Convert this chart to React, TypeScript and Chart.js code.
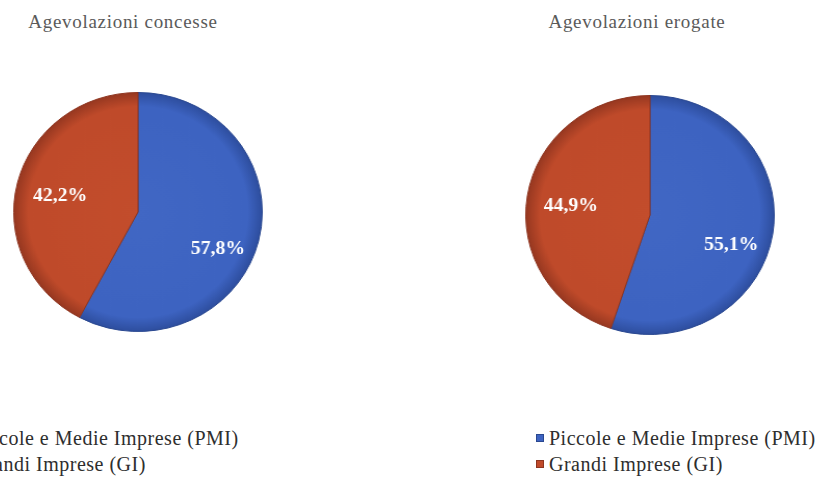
import React, { useEffect, useRef } from "react";
import { Chart, registerables } from "chart.js";

Chart.register(...registerables);

const categories = ["Piccole e Medie Imprese (PMI)", "Grandi Imprese (GI)"];
const concesseValues = [57.8, 42.2];
const erogateValues = [55.1, 44.9];
const chartTitles = ["Agevolazioni concesse", "Agevolazioni erogate"];

const SERIF = "'Liberation Serif', 'DejaVu Serif', serif";

const fmt = (v: number) => v.toFixed(1).replace(".", ",") + "%";

// small label placement nudges (px) per slice, like Excel's "best fit"
const labelNudge = [
  { dx: -2, dy: 17 },
  { dx: 4, dy: 4 },
];

const percentLabels = {
  id: "percentLabels",
  afterDatasetsDraw(chart: any) {
    const ctx = chart.ctx;
    const meta = chart.getDatasetMeta(0);
    const data = chart.data.datasets[0].data as number[];
    ctx.save();
    ctx.font = "bold 19px " + SERIF;
    ctx.fillStyle = "#ffffff";
    ctx.textAlign = "center";
    ctx.textBaseline = "middle";
    meta.data.forEach((arc: any, i: number) => {
      const p = arc.getProps(["x", "y", "startAngle", "endAngle", "outerRadius"], true);
      const mid = (p.startAngle + p.endAngle) / 2;
      const r = p.outerRadius * 0.68;
      const n = labelNudge[i] || { dx: 0, dy: 0 };
      ctx.fillText(fmt(data[i]), p.x + Math.cos(mid) * r + n.dx, p.y + Math.sin(mid) * r + n.dy);
    });
    ctx.restore();
  },
};

const gradStops = [
  ["#4167c4", "#3d63c1", "#2d4d9d"],
  ["#c34d2c", "#bf4a2a", "#953720"],
];

const sliceFill = (c: any) => {
  const chart = c.chart;
  const area = chart.chartArea;
  const stops = gradStops[c.dataIndex % gradStops.length];
  if (!area) return stops[1];
  const cx = (area.left + area.right) / 2;
  const cy = (area.top + area.bottom) / 2;
  const r = Math.min(area.right - area.left, area.bottom - area.top) / 2;
  const g = chart.ctx.createRadialGradient(cx, cy, 0, cx, cy, r);
  g.addColorStop(0, stops[0]);
  g.addColorStop(0.88, stops[1]);
  g.addColorStop(1, stops[2]);
  return g;
};

const borderColors = ["#2a4890", "#8e3520"];

function Pie({ values, left, top }: { values: number[]; left: number; top: number }) {
  const ref = useRef<HTMLCanvasElement | null>(null);
  useEffect(() => {
    if (!ref.current) return;
    const chart = new Chart(ref.current, {
      type: "pie",
      data: {
        labels: categories,
        datasets: [
          {
            data: values,
            backgroundColor: sliceFill as any,
            borderColor: borderColors,
            borderWidth: 1,
          },
        ],
      },
      options: {
        responsive: false,
        animation: false,
        layout: { padding: 30 },
        plugins: {
          legend: { display: false },
          tooltip: { enabled: false },
          title: { display: false },
        },
      },
      plugins: [percentLabels],
    });
    return () => chart.destroy();
  }, [values]);
  return (
    <canvas
      ref={ref}
      width={300}
      height={300}
      style={{
        position: "absolute",
        left,
        top,
        width: 300,
        height: 300,
        transform: "scaleX(1.04)",
        transformOrigin: "150px 150px",
      }}
    />
  );
}

const legendColors = ["#3d63c1", "#c04a2a"];

function Legend({ left, top }: { left: number; top: number }) {
  return (
    <div style={{ position: "absolute", left, top, fontFamily: SERIF, fontSize: 20, color: "#2e2e2e", whiteSpace: "nowrap" }}>
      {categories.map((c, i) => (
        <div key={c} style={{ display: "flex", alignItems: "center", height: 26 }}>
          <span
            style={{
              display: "inline-block",
              width: 8,
              height: 8,
              background: legendColors[i],
              marginRight: 5,
              border: "1px solid " + borderColors[i],
              boxSizing: "border-box",
            }}
          />
          <span style={{ letterSpacing: 0.5 }}>{c}</span>
        </div>
      ))}
    </div>
  );
}

function Title({ text, cx }: { text: string; cx: number }) {
  return (
    <div
      style={{
        position: "absolute",
        left: cx - 150,
        width: 300,
        top: 11,
        textAlign: "center",
        fontFamily: SERIF,
        fontSize: 19,
        color: "#5a5a5a",
        letterSpacing: 0.7,
        whiteSpace: "nowrap",
      }}
    >
      {text}
    </div>
  );
}

export default function App() {
  return (
    <div
      style={{
        position: "fixed",
        left: 0,
        top: 0,
        width: 819,
        height: 477,
        overflow: "hidden",
        background: "#ffffff",
      }}
    >
      <Title text={chartTitles[0]} cx={123} />
      <Title text={chartTitles[1]} cx={637} />
      <Pie values={concesseValues} left={138 - 150} top={212 - 150} />
      <Pie values={erogateValues} left={650 - 150} top={215 - 150} />
      <Legend left={-41} top={425} />
      <Legend left={536} top={425} />
    </div>
  );
}
